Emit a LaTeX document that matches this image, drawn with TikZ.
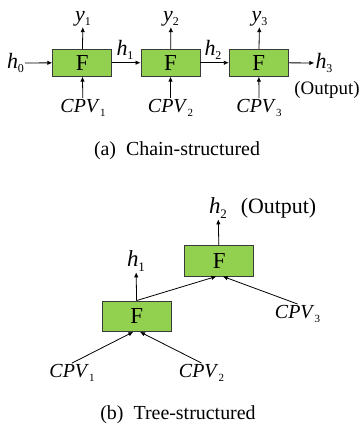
\documentclass[tikz,border=0pt]{standalone}
\usepackage{fontspec}
\setmainfont{Liberation Serif}
\usepackage{tikz}
\usetikzlibrary{arrows.meta, calc, positioning}
\definecolor{fgreen}{HTML}{92D050}
\definecolor{fedge}{HTML}{3A3A3A}
\newcommand{\lsub}[2]{\raisebox{-4.3bp}{\fontsize{#1}{#1}\selectfont #2}}
\tikzset{
  fbox/.style    = {draw=fedge, fill=fgreen, line width=0.9pt, inner sep=0pt,
                    minimum width=59bp, minimum height=27bp,
                    font=\fontsize{23}{25}\selectfont},
  tbox/.style    = {fbox, minimum width=69bp, minimum height=30.5bp},
  vlab/.style    = {inner sep=1pt, font=\fontsize{22}{24}\selectfont},
  tlab/.style    = {inner sep=1pt, font=\fontsize{23}{25}\selectfont},
  cpvlab/.style  = {inner sep=1pt, font=\fontsize{20}{22}\selectfont},
  notelab/.style = {inner sep=0pt, font=\fontsize{19}{21}\selectfont},
  caplab/.style  = {inner sep=0pt, font=\fontsize{20}{22}\selectfont},
  flow/.style    = {-{Latex[length=5pt, width=4.5pt]}, line width=0.8pt},
}
\begin{document}
\begin{tikzpicture}[x=1bp, y=-1bp]
  \useasboundingbox (0,0) rectangle (362,427);
  % chain
  \node[fbox] (F1) at (82.2,62.7) {F};
  \node[fbox] (F2) at (170.5,62.7) {F};
  \node[fbox] (F3) at (258.8,62.7) {F};
  \node[vlab] (h0) at (15.5,63) {\textit{h}\lsub{12}{0}};
  \node[vlab] (h3) at (324,63) {\textit{h}\lsub{12}{3}};
  \node[notelab] at (327,90) {(Output)};
  \node[vlab] at (125,50) {\textit{h}\lsub{12}{1}};
  \node[vlab] at (213,50) {\textit{h}\lsub{12}{2}};
  \node[vlab] (y1) at (83,18.5) {\textit{y}\lsub{12}{1}};
  \node[vlab] (y2) at (171,18.5) {\textit{y}\lsub{12}{2}};
  \node[vlab] (y3) at (259.5,18.5) {\textit{y}\lsub{12}{3}};
  \node[cpvlab] (C1) at (83,108) {\textit{CPV}\lsub{11}{1}};
  \node[cpvlab] (C2) at (170.5,108) {\textit{CPV}\lsub{11}{2}};
  \node[cpvlab] (C3) at (259,108) {\textit{CPV}\lsub{11}{3}};
  \draw[flow] (h0) -- (F1);
  \draw[flow] (F1) -- (F2);
  \draw[flow] (F2) -- (F3);
  \draw[flow] (F3) -- (h3);
  \draw[flow] (F1) -- (y1);
  \draw[flow] (F2) -- (y2);
  \draw[flow] (F3) -- (y3);
  \draw[flow] (C1) -- (F1);
  \draw[flow] (C2) -- (F2);
  \draw[flow] (C3) -- (F3);
  \node[caplab] at (177,151) {(a)\ \ Chain-structured};
  % tree
  \node[tbox] (Tb) at (219.2,260.7) {F};
  \node[tbox] (Ta) at (136.8,316.2) {F};
  \node[tlab] (Hb) at (218,208) {\textit{h}\lsub{13}{2}};
  \node[notelab, font=\fontsize{22}{24}\selectfont] at (278.5,208) {(Output)};
  \node[tlab] (Ha) at (136,261) {\textit{h}\lsub{13}{1}};
  \node[cpvlab] (Ka) at (72,373) {\textit{CPV}\lsub{11}{1}};
  \node[cpvlab] (Kb) at (201.5,373) {\textit{CPV}\lsub{11}{2}};
  \node[cpvlab] (Kc) at (297.5,314) {\textit{CPV}\lsub{11}{3}};
  \coordinate (Tbl) at ($(Tb.south)+(-2.8,0)$);
  \coordinate (Tbr) at ($(Tb.south)+(3.6,0)$);
  \coordinate (Tal) at ($(Ta.south)+(-3.5,0)$);
  \coordinate (Tar) at ($(Ta.south)+(3.2,0)$);
  \draw[flow] (Tb) -- (Hb);
  \draw[flow] (Ta) -- (Ha);
  \draw[flow] (Ta.north) -- (Tbl);
  \draw[flow] (Kc.north) -- (Tbr);
  \draw[flow] (Ka.north) -- (Tal);
  \draw[flow] (Kb.north) -- (Tar);
  \node[caplab] at (178,415) {(b)\ \ Tree-structured};
\end{tikzpicture}
\end{document}
